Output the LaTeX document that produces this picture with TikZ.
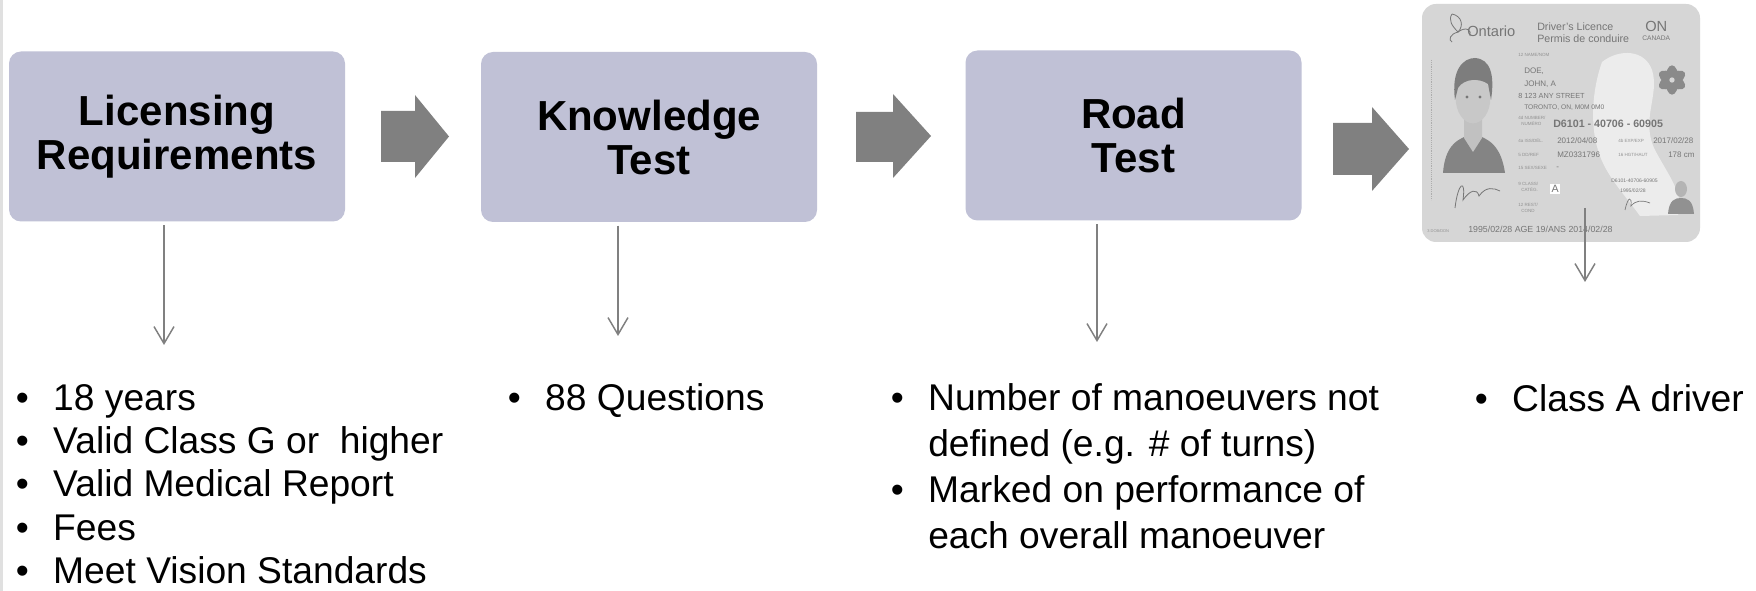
\documentclass[tikz,border=0pt]{standalone}
\usepackage{fontspec}
\setmainfont{Liberation Sans}
\usetikzlibrary{arrows.meta}
\definecolor{boxfill}{RGB}{192,193,214}
\definecolor{arrowgray}{RGB}{128,128,128}
\definecolor{conngray}{RGB}{128,128,128}
\definecolor{cardbg}{RGB}{214,214,214}
\definecolor{cardtext}{RGB}{118,118,118}
\definecolor{stripgray}{RGB}{224,224,224}
\newcommand\blt{\makebox[28.125pt][l]{•}}
\newcommand\bind{\hspace*{28.125pt}}
\begin{document}
\begin{tikzpicture}[x=0.75pt,y=-0.75pt,
  stepbox/.style={fill=boxfill, rounded corners=9pt, minimum width=252pt, minimum height=127.5pt,
    inner sep=0pt, align=center, font=\fontsize{31.5}{33}\selectfont\bfseries},
  blockarrow/.style={fill=arrowgray},
  conn/.style={draw=conngray, line width=1.1pt, shorten <=2.5pt,
    -{Straight Barb[length=12.75pt, width=15pt, line width=1.1pt]}},
  bullets/.style={anchor=north west, inner sep=0pt, align=left, font=\fontsize{27.9}{32.5}\selectfont},
  bulletswide/.style={bullets, font=\fontsize{27.9}{34.5}\selectfont},
  card/.style={fill=cardbg, rounded corners=10.5pt, minimum width=208.5pt, minimum height=178.5pt, inner sep=0pt},
  ctxt/.style={inner sep=0pt, anchor=base west, text=cardtext, font=\fontsize{6}{6}\selectfont},
  clab/.style={ctxt, text=cardtext!80, font=\fontsize{3.4}{3.4}\selectfont},
]
\useasboundingbox (0,0) rectangle (1756,591);
\fill[white] (0,0) rectangle (1756,591);
\fill[stripgray] (0,0) rectangle (3,591);

% step boxes
\node[stepbox] (b1) at (177,136.5) {Licensing\\Requirements};
\node[stepbox] (b2) at (649,137) {Knowledge\\Test};
\node[stepbox] (b3) at (1133.5,135.5) {Road\\Test};

% block arrows
\fill[blockarrow] (381,111) -- (415,111) -- (415,95) -- (449,136.5) -- (415,178) -- (415,162) -- (381,162) -- cycle;
\fill[blockarrow] (856,112) -- (893,112) -- (893,94) -- (931,136) -- (893,178) -- (893,162) -- (856,162) -- cycle;
\fill[blockarrow] (1333,123) -- (1372,123) -- (1372,107) -- (1409,149) -- (1372,191) -- (1372,175) -- (1333,175) -- cycle;

% licence card
\node[card] (card) at (1561,123) {};
\fill[white, opacity=0.55] (1602,62) .. controls (1620,48) and (1645,50) .. (1652,70)
  .. controls (1660,95) and (1640,120) .. (1655,150) .. controls (1668,175) and (1685,195) .. (1678,215)
  -- (1640,216) .. controls (1625,195) and (1605,175) .. (1598,150) .. controls (1590,125) and (1592,90) .. (1602,62) -- cycle;
\draw[cardtext!60, line width=0.4pt, densely dotted] (1431,60) -- (1431,200);
% logo
\draw[cardtext, line width=0.6pt] (1452,14) .. controls (1462,16) and (1464,26) .. (1458,32)
  .. controls (1452,26) and (1448,20) .. (1452,14);
\draw[cardtext, line width=0.6pt] (1458,32) .. controls (1466,26) and (1472,30) .. (1470,36);
\draw[cardtext, line width=0.6pt] (1458,32) .. controls (1450,34) and (1448,40) .. (1452,42);
\node[ctxt, font=\fontsize{11}{11}\selectfont] (ont) at (1467,37) {Ontario};
\node[ctxt, font=\fontsize{8}{8}\selectfont] (dl1) at (1537,31) {Driver's Licence};
\node[ctxt, font=\fontsize{8}{8}\selectfont] (dl2) at (1537,43) {Permis de conduire};
\node[ctxt, font=\fontsize{11}{11}\selectfont] (on) at (1645,32) {ON};
\node[ctxt, font=\fontsize{5}{5}\selectfont] (can) at (1642,41) {CANADA};
% trillium
\begin{scope}[shift={(1672,80)}]
  \fill[cardtext!85] (0,0) ellipse [x radius=5pt, y radius=11pt] ;
  \fill[cardtext!85, rotate=120] (0,0) ellipse [x radius=5pt, y radius=11pt];
  \fill[cardtext!85, rotate=240] (0,0) ellipse [x radius=5pt, y radius=11pt];
  \fill[cardbg] (0,0) circle (2pt);
\end{scope}
% portrait
\fill[cardtext!90] (1443,173) .. controls (1445,145) and (1458,138) .. (1473,134)
  .. controls (1488,138) and (1501,145) .. (1505,173) -- cycle;
\fill[cardtext!45] (1464,118) -- (1482,118) -- (1482,138) -- (1473,152) -- (1464,138) -- cycle;
\fill[cardtext!40] (1473,98) ellipse [x radius=13pt, y radius=19pt];
\fill[cardtext!95] (1455,100) .. controls (1451,70) and (1463,58) .. (1475,58)
  .. controls (1490,59) and (1495,74) .. (1491,100) -- (1488,84)
  .. controls (1480,78) and (1464,78) .. (1458,88) -- cycle;
\fill[cardtext] (1467,97) circle (1.2pt) (1480,97) circle (1.2pt);
\draw[cardtext, line width=0.6pt] (1455,208) .. controls (1458,182) and (1466,178) .. (1463,200)
  .. controls (1470,190) and (1477,188) .. (1479,196) .. controls (1486,186) and (1494,188) .. (1500,191);
% card texts
\node[clab] (l1) at (1518,57) {12 NAME/NOM};
\node[ctxt] (n1) at (1524,74) {DOE,};
\node[ctxt] (n2) at (1524,87) {JOHN, A};
\node[ctxt, font=\fontsize{5.5}{5.5}\selectfont] (n3) at (1518,99) {8 123 ANY STREET};
\node[ctxt, font=\fontsize{5}{5}\selectfont] (n4) at (1524,110) {TORONTO, ON, M0M 0M0};
\node[clab] (l2) at (1518,120) {4d NUMBER/};
\node[clab] (l3) at (1521,126) {NUMÉRO};
\node[ctxt, font=\fontsize{8}{8}\selectfont\bfseries] (num) at (1553,128) {D6101 - 40706 - 60905};
\node[clab] (l4) at (1518,143) {4a ISS/DÉL.};
\node[ctxt] (d1) at (1557,144) {2012/04/08};
\node[clab] (l5) at (1618,143) {4b EXP/EXP};
\node[ctxt] (d2) at (1653,144) {2017/02/28};
\node[clab] (l6) at (1518,157) {5 DD/REF};
\node[ctxt] (d3) at (1557,158) {MZ0331796};
\node[clab] (l7) at (1618,157) {16 HGT/HAUT};
\node[ctxt] (d4) at (1668,158) {178 cm};
\node[clab] (l8) at (1518,170) {15 SEX/SEXE};
\node[ctxt] (d5) at (1556,170) {-};
\node[clab] (l9) at (1518,186) {9 CLASS/};
\node[clab] (l10) at (1521,192) {CATÉG.};
\node[ctxt, fill=white, inner sep=1pt, text=cardtext, font=\fontsize{8}{8}\selectfont] (cls) at (1550,193) {A};
\node[clab] (l11) at (1518,207) {12 REST/};
\node[clab] (l12) at (1521,213) {COND};
\node[ctxt, font=\fontsize{3.8}{3.8}\selectfont] (s1) at (1611,183) {D6101-40706-60905};
\node[ctxt, font=\fontsize{3.8}{3.8}\selectfont] (s2) at (1620,193) {1995/02/28};
\draw[cardtext, line width=0.5pt] (1625,210) .. controls (1628,196) and (1632,196) .. (1631,206)
  .. controls (1636,200) and (1642,200) .. (1650,203);
\fill[cardtext!80] (1668,214) .. controls (1669,200) and (1675,198) .. (1681,198)
  .. controls (1687,198) and (1693,200) .. (1694,214) -- cycle;
\fill[cardtext!55] (1681,189) ellipse [x radius=4.5pt, y radius=6pt];
\node[clab, font=\fontsize{3}{3}\selectfont] (l13) at (1427,233) {3 DOB/DDN};
\node[ctxt, font=\fontsize{6.6}{6.6}\selectfont] (dob) at (1468,233) {1995/02/28 AGE 19/ANS 2014/02/28};

% connector ends
\coordinate (e1) at (164,345);
\coordinate (e2) at (618,336);
\coordinate (e3) at (1097,342);
\coordinate (s4) at (1585,208);
\coordinate (e4) at (1585,282);
\draw[conn] (b1.south -| e1) -- (e1);
\draw[conn] (b2.south -| e2) -- (e2);
\draw[conn] (b3.south -| e3) -- (e3);
\draw[conn, shorten <=0pt] (s4) -- (e4);

% bullet lists
\node[bullets] (t1) at (15.5,380.7) {\rule{0pt}{22pt}\blt 18 years\\
  \blt Valid Class G or\ \ higher\\
  \blt Valid Medical Report\\
  \blt Fees\\
  \blt Meet Vision Standards};
\node[bullets] (t2) at (507.5,380.7) {\rule{0pt}{22pt}\blt 88 Questions};
\node[bulletswide] (t3) at (890.5,380.7) {\rule{0pt}{22pt}\blt Number of manoeuvers not\\
  \bind defined (e.g. \# of turns)\\
  \blt Marked on performance of\\
  \bind each overall manoeuver};
\node[bullets] (t4) at (1474.5,381.7) {\rule{0pt}{22pt}\blt Class A driver};
\end{tikzpicture}
\end{document}
